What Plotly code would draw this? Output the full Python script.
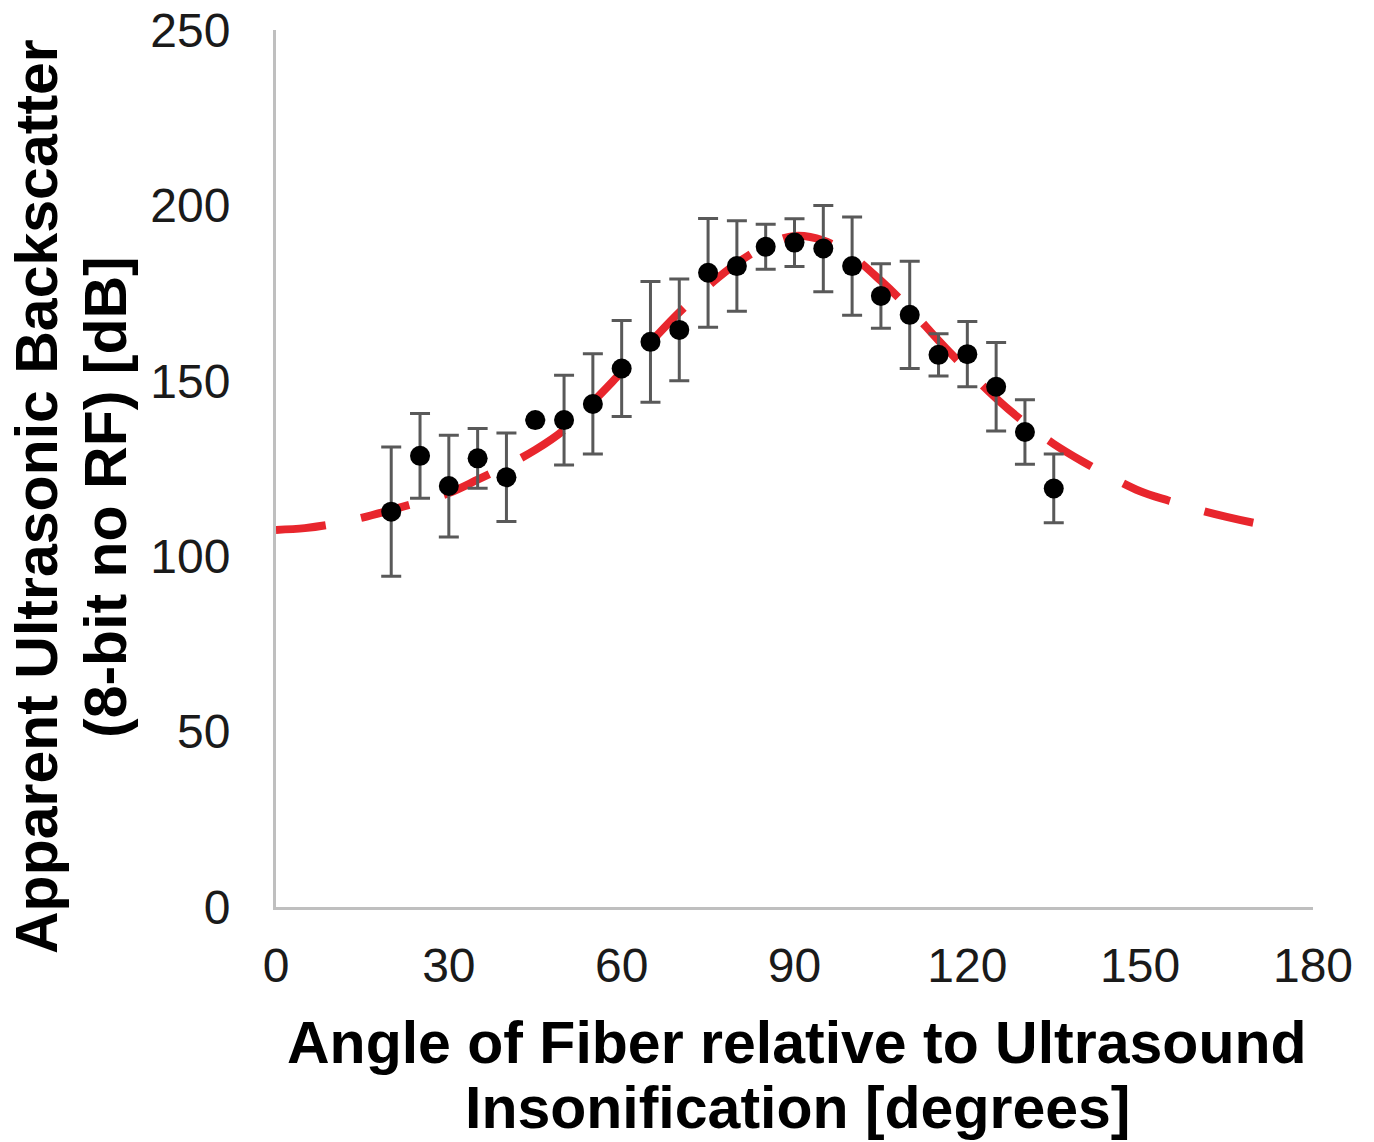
import plotly.graph_objects as go

# Measured data (angle in degrees, backscatter value, symmetric error)
angles = [20, 25, 30, 35, 40, 45, 50, 55, 60, 65, 70, 75, 80, 85, 90, 95, 100, 105, 110, 115, 120, 125, 130, 135]
backscatter = [112.7, 128.6, 120.0, 127.9, 122.5, 138.8, 138.8, 143.4, 153.5, 161.1, 164.5, 180.8,
               182.7, 188.2, 189.4, 187.7, 182.7, 174.2, 168.8, 157.4, 157.6, 148.3, 135.4, 119.3]
error = [18.4, 12.1, 14.5, 8.5, 12.6, 0.0, 12.8, 14.3, 13.7, 17.2, 14.5, 15.5,
         12.9, 6.4, 6.8, 12.3, 14.0, 9.2, 15.3, 6.0, 9.3, 12.6, 9.2, 9.8]

# Fitted curve
fit_angles = [0, 5, 10, 15, 20, 25, 30, 35, 40, 45, 50, 55, 60, 65, 70, 75, 80, 85, 90,
              95, 100, 105, 110, 115, 120, 125, 130, 135, 140, 145, 150, 155, 160, 165, 170, 172]
fit_values = [107.5, 108.0, 109.2, 111.0, 113.2, 115.5, 118.0, 121.8, 125.8, 130.3, 136.0, 144.0,
              152.5, 161.0, 169.5, 177.0, 183.5, 188.5, 191.3, 190.0, 185.5, 178.5, 170.5, 161.5,
              153.0, 145.0, 138.0, 132.0, 127.0, 122.5, 118.5, 115.8, 113.3, 111.2, 109.4, 108.8]

x_ticks = [0, 30, 60, 90, 120, 150, 180]
y_ticks = [0, 50, 100, 150, 200, 250]

FONT = "Liberation Sans, Arial, sans-serif"
OFF = 8  # page body margin in the browser
W, H = 1374 - OFF, 1142 - OFF
L, T = 276 - OFF, 30 - OFF
PLOT_W, PLOT_H = 1313 - 276, 907 - 30

fig = go.Figure()
fig.add_trace(go.Scatter(
    x=fit_angles, y=fit_values, mode="lines",
    line=dict(color="#e8262d", width=8, dash="50px,36px", shape="spline"),
    hoverinfo="skip", showlegend=False,
))
fig.add_trace(go.Scatter(
    x=angles, y=backscatter, mode="markers",
    marker=dict(color="black", size=20),
    error_y=dict(type="data", array=error, visible=True, color="#595959", thickness=3, width=10),
    showlegend=False,
))

fig.update_layout(
    width=W, height=H,
    margin=dict(l=L, r=W - L - PLOT_W, t=T, b=H - T - PLOT_H, autoexpand=False),
    plot_bgcolor="white", paper_bgcolor="white",
    font=dict(family=FONT, color="#1a1a1a"),
)
fig.update_xaxes(
    range=[0, 180], tickvals=x_ticks, showgrid=False, zeroline=False,
    showline=True, linecolor="#bfbfbf", linewidth=3, automargin=False,
    ticks="", tickfont=dict(size=48, family=FONT, color="#1a1a1a"),
    ticklabelstandoff=14, ticklabeloverflow="allow",
)
fig.update_yaxes(
    range=[0, 250], tickvals=y_ticks, showgrid=False, zeroline=False,
    showline=True, linecolor="#bfbfbf", linewidth=3, automargin=False,
    ticks="", tickfont=dict(size=48, family=FONT, color="#1a1a1a"),
    ticklabelstandoff=33, ticklabeloverflow="allow",
)

def px_x(px):
    return (px - 276) / PLOT_W

def px_y(py):
    return (907 - py) / PLOT_H

title_font = dict(family=FONT, size=59, color="black")
for text, py in [("<b>Angle of Fiber relative to Ultrasound</b>", 1043),
                 ("<b>Insonification [degrees]</b>", 1108)]:
    fig.add_annotation(text=text, xref="paper", yref="paper", x=px_x(797), y=px_y(py),
                       xanchor="center", yanchor="middle", showarrow=False, font=title_font)
for text, px in [("<b>Apparent Ultrasonic Backscatter</b>", 37), ("<b>(8-bit no RF) [dB]</b>", 106)]:
    fig.add_annotation(text=text, xref="paper", yref="paper", x=px_x(px), y=px_y(497),
                       xanchor="center", yanchor="middle", textangle=-90,
                       showarrow=False, font=title_font)

fig.write_html("out.html")
